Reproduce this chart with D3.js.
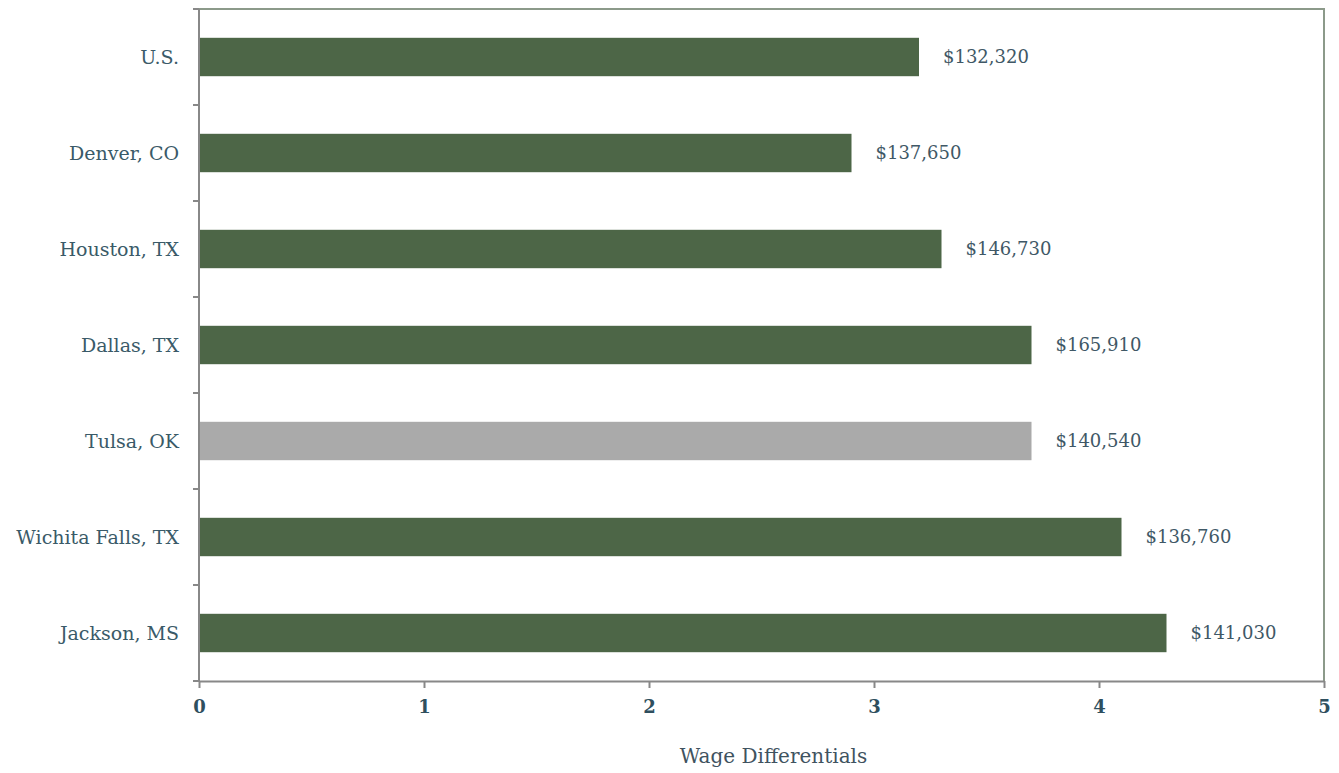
<!DOCTYPE html>
<html>
<head>
<meta charset="utf-8">
<script src="https://cdn.jsdelivr.net/npm/d3@7"></script>
<style>
  body { margin: 0; background: #fff; }
  svg text { font-family: "DejaVu Serif", serif; }
</style>
</head>
<body>
<div id="chart"></div>
<script>
const categories = ['U.S.', 'Denver, CO', 'Houston, TX', 'Dallas, TX', 'Tulsa, OK', 'Wichita Falls, TX', 'Jackson, MS'];
const values = [3.2, 2.9, 3.3, 3.7, 3.7, 4.1, 4.3];
const wageLabels = ['$132,320', '$137,650', '$146,730', '$165,910', '$140,540', '$136,760', '$141,030'];
const highlight = ['Tulsa, OK'];
const xTicks = [0, 1, 2, 3, 4, 5];

const margin = { top: 9, right: 15, bottom: 92, left: 199 };
const width = 1339 - margin.left - margin.right;
const height = 773 - margin.top - margin.bottom;

const svg = d3.select('#chart').append('svg')
  .attr('width', 1339)
  .attr('height', 773)
  .append('g')
  .attr('transform', `translate(${margin.left},${margin.top})`);

const x = d3.scaleLinear().domain([0, 5]).range([0, width]);
const y = d3.scaleBand().domain(categories).range([0, height]).paddingInner(0.6).paddingOuter(0.3);

// frame (top and right)
svg.append('path')
  .attr('d', `M0,0H${width}V${height}`)
  .attr('fill', 'none')
  .attr('stroke', '#8c9a8a')
  .attr('stroke-width', 2);

// bars
svg.append('g')
  .selectAll('rect')
  .data(categories)
  .enter()
  .append('rect')
  .attr('x', 0)
  .attr('y', d => y(d))
  .attr('width', (d, i) => x(values[i]))
  .attr('height', y.bandwidth())
  .attr('fill', d => highlight.includes(d) ? '#aaaaaa' : '#4d6647');

// value labels
svg.append('g')
  .selectAll('text')
  .data(categories)
  .enter()
  .append('text')
  .attr('x', (d, i) => x(values[i]) + 24)
  .attr('y', d => y(d) + y.bandwidth() / 2)
  .attr('dy', '0.35em')
  .style('font-size', '18px')
  .style('fill', '#3f5866')
  .text((d, i) => wageLabels[i]);

// Y axis
const step = y.step();
const yAxis = svg.append('g');
yAxis.append('line')
  .attr('x1', 0).attr('x2', 0).attr('y1', 0).attr('y2', height)
  .attr('stroke', '#888').attr('stroke-width', 2);
yAxis.selectAll('line.tick')
  .data(d3.range(categories.length + 1))
  .enter()
  .append('line')
  .attr('class', 'tick')
  .attr('x1', -6).attr('x2', 0)
  .attr('y1', i => i * step).attr('y2', i => i * step)
  .attr('stroke', '#888').attr('stroke-width', 2);
yAxis.selectAll('text')
  .data(categories)
  .enter()
  .append('text')
  .attr('x', -20)
  .attr('y', d => y(d) + y.bandwidth() / 2)
  .attr('dy', '0.35em')
  .style('text-anchor', 'end')
  .style('font-size', '19px')
  .style('fill', '#3a5a68')
  .text(d => d);

// X axis
const xAxis = svg.append('g')
  .attr('transform', `translate(0,${height})`)
  .call(d3.axisBottom(x).tickValues(xTicks).tickFormat(d3.format('d')).tickSize(7).tickSizeOuter(0).tickPadding(12));
xAxis.select('.domain').attr('stroke', '#888').attr('stroke-width', 2);
xAxis.selectAll('.tick line').attr('stroke', '#888').attr('stroke-width', 2);
xAxis.selectAll('text')
  .style('font-size', '18px')
  .style('font-weight', 'bold')
  .style('fill', '#2f4f5e');

// X label (sits a little right of the plot centre in the original)
svg.append('text')
  .attr('x', width / 2 + 12)
  .attr('y', height + 82)
  .style('text-anchor', 'middle')
  .style('font-size', '20px')
  .style('fill', '#3f5360')
  .text('Wage Differentials');
</script>
</body>
</html>
